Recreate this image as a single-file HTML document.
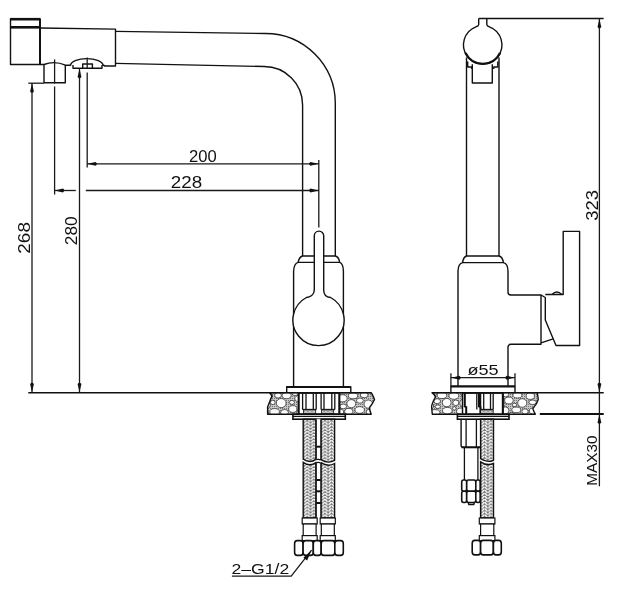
<!DOCTYPE html>
<html><head><meta charset="utf-8"><style>
html,body{margin:0;padding:0;background:#fff;width:618px;height:600px;overflow:hidden}
svg{display:block}
svg{will-change:transform}
.o{fill:none;stroke:#111;stroke-width:1.4;stroke-linejoin:round}
.t2{fill:none;stroke:#111;stroke-width:2}
.t25{fill:none;stroke:#111;stroke-width:2.4}
.t17{fill:none;stroke:#111;stroke-width:1.7}
.t3{fill:none;stroke:#111;stroke-width:2.6}
.d{fill:none;stroke:#1a1a1a;stroke-width:1.3}
.ar{fill:#111;stroke:none}
.st ellipse{fill:#fff;stroke:#333;stroke-width:0.8}
.o1{fill:none;stroke:#111;stroke-width:1.3}
.wf{fill:#fff;stroke:#111;stroke-width:1.2}
.wf2{fill:#fff;stroke:#111;stroke-width:1.6}
.hb{fill:url(#braid2);stroke:#111;stroke-width:0.8}
.hz{stroke:#111;stroke-width:1.4}
.nut{fill:#fff;stroke:#111;stroke-width:1.6}
.tx{font-family:"Liberation Sans",sans-serif;font-size:20px;fill:#111}
</style></head><body>
<svg width="618" height="600" viewBox="0 0 618 600">
<defs>
<pattern id="stip" width="2" height="2" patternUnits="userSpaceOnUse"><rect width="2" height="2" fill="#c8c8c8"/><rect width="1" height="1" fill="#777"/></pattern>
<pattern id="braidA" x="303.9" y="0" width="6.6" height="3.1" patternUnits="userSpaceOnUse"><rect width="6.6" height="3.1" fill="#7a7a7a"/><path d="M0.9 2.5 L2.6 0.5 M4.0 0.5 L5.7 2.5" fill="none" stroke="#fff" stroke-width="1.4" stroke-linecap="round"/></pattern>
<pattern id="braidB" x="321.6" y="0" width="6.6" height="3.1" patternUnits="userSpaceOnUse"><rect width="6.6" height="3.1" fill="#7a7a7a"/><path d="M0.9 2.5 L2.6 0.5 M4.0 0.5 L5.7 2.5" fill="none" stroke="#fff" stroke-width="1.4" stroke-linecap="round"/></pattern>
<pattern id="braidC" x="481.2" y="0" width="6.6" height="3.1" patternUnits="userSpaceOnUse"><rect width="6.6" height="3.1" fill="#7a7a7a"/><path d="M0.9 2.5 L2.6 0.5 M4.0 0.5 L5.7 2.5" fill="none" stroke="#fff" stroke-width="1.4" stroke-linecap="round"/></pattern>
<pattern id="braid2" width="4" height="2" patternUnits="userSpaceOnUse"><rect width="4" height="2" fill="#999"/><path d="M0.5 0.5 L2 1.5 L3.5 0.5" fill="none" stroke="#fff" stroke-width="0.8"/></pattern>
<clipPath id="cl1"><path d="M269.4 392.6 Q272.8 395.5 271.3 397.5 L267.6 407 L267.6 414.2 L371.2 414.2 Q369.4 410 369.6 407.5 Q373 403 374.5 399.5 Q373 395 371.2 392.6 Z"/></clipPath>
<clipPath id="cl2"><path d="M432 392.6 Q435.2 395 435.4 397 Q432 403 431.6 406.8 L432.3 414.2 L535.3 414.2 Q533 410 532.9 408.5 Q537 404 538.2 399.6 Q538 395 537 392.6 Z"/></clipPath>
</defs>
<g clip-path="url(#cl1)"><rect x="263" y="392.6" width="116" height="21.599999999999966" fill="url(#stip)"/><g class="st"><ellipse cx="326.9" cy="404.1" rx="4.6" ry="4.4"/><ellipse cx="281.2" cy="403.1" rx="4.9" ry="4.6"/><ellipse cx="351.3" cy="403.7" rx="4.4" ry="4.1"/><ellipse cx="368.3" cy="404.1" rx="4.3" ry="4.1"/><ellipse cx="314.1" cy="409.4" rx="3.8" ry="3.2"/><ellipse cx="378.7" cy="412.3" rx="4.3" ry="3.0"/><ellipse cx="299.6" cy="398.7" rx="4.8" ry="3.4"/><ellipse cx="274.6" cy="411.9" rx="4.8" ry="3.3"/><ellipse cx="348.8" cy="411.4" rx="4.1" ry="3.0"/><ellipse cx="292.8" cy="409.0" rx="4.1" ry="3.4"/><ellipse cx="314.7" cy="395.5" rx="3.8" ry="3.0"/><ellipse cx="303.8" cy="406.5" rx="4.8" ry="3.5"/><ellipse cx="266.5" cy="405.1" rx="3.9" ry="3.4"/><ellipse cx="364.2" cy="395.0" rx="3.9" ry="2.8"/><ellipse cx="342.4" cy="398.3" rx="4.8" ry="3.6"/><ellipse cx="333.2" cy="395.1" rx="4.4" ry="3.2"/><ellipse cx="376.7" cy="395.2" rx="4.6" ry="3.4"/><ellipse cx="286.6" cy="395.5" rx="4.5" ry="3.2"/><ellipse cx="267.6" cy="395.9" rx="4.9" ry="3.5"/><ellipse cx="338.8" cy="412.1" rx="4.8" ry="3.1"/><ellipse cx="353.0" cy="395.8" rx="4.6" ry="3.0"/><ellipse cx="359.7" cy="410.0" rx="4.8" ry="3.4"/><ellipse cx="312.9" cy="402.5" rx="4.4" ry="3.1"/><ellipse cx="323.2" cy="411.8" rx="4.9" ry="2.9"/><ellipse cx="378.1" cy="404.8" rx="4.3" ry="2.9"/><ellipse cx="343.2" cy="406.4" rx="3.3" ry="2.4"/><ellipse cx="322.8" cy="394.4" rx="3.5" ry="2.5"/><ellipse cx="369.8" cy="412.0" rx="3.7" ry="2.8"/><ellipse cx="284.5" cy="412.4" rx="3.9" ry="2.9"/><ellipse cx="278.0" cy="395.3" rx="3.4" ry="2.8"/><ellipse cx="359.9" cy="400.6" rx="3.4" ry="2.6"/><ellipse cx="306.3" cy="394.0" rx="3.2" ry="2.3"/><ellipse cx="265.4" cy="413.0" rx="3.5" ry="2.4"/><ellipse cx="306.4" cy="412.9" rx="3.1" ry="2.4"/><ellipse cx="335.1" cy="403.8" rx="3.0" ry="2.5"/><ellipse cx="295.1" cy="393.6" rx="3.1" ry="1.9"/><ellipse cx="320.2" cy="399.8" rx="2.5" ry="2.3"/><ellipse cx="291.9" cy="402.4" rx="2.5" ry="2.0"/><ellipse cx="298.9" cy="412.2" rx="2.4" ry="1.9"/><ellipse cx="272.8" cy="402.4" rx="2.3" ry="2.2"/><ellipse cx="330.9" cy="410.2" rx="2.3" ry="1.8"/></g></g>
<g clip-path="url(#cl2)"><rect x="427" y="392.6" width="116" height="21.599999999999966" fill="url(#stip)"/><g class="st"><ellipse cx="487.8" cy="403.4" rx="4.8" ry="4.5"/><ellipse cx="522.3" cy="403.0" rx="4.6" ry="4.3"/><ellipse cx="446.7" cy="402.6" rx="4.4" ry="4.2"/><ellipse cx="464.4" cy="402.9" rx="4.6" ry="4.3"/><ellipse cx="530.3" cy="396.1" rx="4.2" ry="3.3"/><ellipse cx="496.7" cy="408.4" rx="3.9" ry="3.0"/><ellipse cx="517.4" cy="395.1" rx="4.5" ry="2.9"/><ellipse cx="508.9" cy="400.5" rx="4.3" ry="3.4"/><ellipse cx="499.8" cy="399.4" rx="4.0" ry="3.1"/><ellipse cx="428.9" cy="406.0" rx="4.7" ry="3.1"/><ellipse cx="473.7" cy="397.3" rx="4.9" ry="3.1"/><ellipse cx="447.3" cy="410.7" rx="4.9" ry="3.3"/><ellipse cx="541.5" cy="405.4" rx="4.5" ry="2.9"/><ellipse cx="474.8" cy="411.4" rx="3.9" ry="3.6"/><ellipse cx="516.3" cy="409.9" rx="4.5" ry="2.8"/><ellipse cx="429.4" cy="395.7" rx="4.0" ry="3.5"/><ellipse cx="453.9" cy="395.9" rx="5.0" ry="3.4"/><ellipse cx="534.0" cy="411.0" rx="4.7" ry="3.1"/><ellipse cx="486.0" cy="411.6" rx="4.1" ry="3.0"/><ellipse cx="442.0" cy="395.3" rx="4.8" ry="3.3"/><ellipse cx="434.9" cy="412.5" rx="5.0" ry="2.9"/><ellipse cx="505.1" cy="410.5" rx="3.9" ry="3.6"/><ellipse cx="541.5" cy="395.3" rx="4.0" ry="3.3"/><ellipse cx="475.8" cy="404.3" rx="4.6" ry="2.9"/><ellipse cx="461.3" cy="411.2" rx="4.7" ry="3.2"/><ellipse cx="491.3" cy="394.9" rx="4.1" ry="3.3"/><ellipse cx="455.8" cy="402.8" rx="3.0" ry="2.8"/><ellipse cx="437.2" cy="401.2" rx="3.3" ry="2.5"/><ellipse cx="532.6" cy="402.3" rx="3.7" ry="2.3"/><ellipse cx="482.7" cy="395.8" rx="3.7" ry="2.8"/><ellipse cx="542.7" cy="412.7" rx="3.3" ry="2.7"/><ellipse cx="464.9" cy="395.4" rx="3.3" ry="2.4"/><ellipse cx="505.6" cy="394.3" rx="3.2" ry="2.6"/><ellipse cx="525.0" cy="411.5" rx="3.1" ry="2.7"/><ellipse cx="437.8" cy="406.7" rx="2.6" ry="1.8"/><ellipse cx="499.2" cy="393.5" rx="1.7" ry="1.6"/><ellipse cx="468.4" cy="408.2" rx="1.7" ry="1.5"/><ellipse cx="499.7" cy="413.6" rx="1.8" ry="1.4"/><ellipse cx="480.7" cy="408.5" rx="1.6" ry="1.6"/><ellipse cx="514.5" cy="404.9" rx="2.4" ry="1.6"/><ellipse cx="454.3" cy="408.4" rx="1.7" ry="1.7"/><ellipse cx="511.6" cy="413.8" rx="2.4" ry="1.4"/><ellipse cx="503.3" cy="404.5" rx="1.8" ry="1.3"/><ellipse cx="492.1" cy="413.8" rx="1.9" ry="1.5"/><ellipse cx="480.5" cy="400.6" rx="1.6" ry="1.3"/></g></g>
<path class="o" d="M269.4 392.6 Q272.8 395.5 271.3 397.5 L267.6 407 L267.6 414.2 L371.2 414.2 Q369.4 410 369.6 407.5 Q373 403 374.5 399.5 Q373 395 371.2 392.6 Z"/>
<path class="o" d="M432 392.6 Q435.2 395 435.4 397 Q432 403 431.6 406.8 L432.3 414.2 L535.3 414.2 Q533 410 532.9 408.5 Q537 404 538.2 399.6 Q538 395 537 392.6 Z"/>
<path class="o" d="M10.5 18.8 L40 18.8 L40 64.5 L10.5 64.5 Z"/>
<line class="t3" x1="10.50" y1="19.20" x2="40.00" y2="19.20"/>
<line class="t3" x1="10.50" y1="27.30" x2="40.00" y2="27.30"/>
<line class="t2" x1="40.00" y1="18.80" x2="40.00" y2="64.50"/>
<path class="o" d="M40 28 L115.5 29.1 L115.5 66 L105 66 L103 65 "/>
<path class="o" d="M70.5 65.8 A16.3 7.2 0 0 1 103.1 65.8"/>
<path class="o" d="M73 65 L73 68.3 L102 68.3 L102 65"/>
<path class="o" d="M82.7 68.3 L82.7 64 L92.4 64 L92.4 68.3"/>
<line class="o" x1="65.50" y1="65.20" x2="70.50" y2="65.30"/>
<path class="o" d="M40 64.5 L44 64.5 Q54.6 60.5 65.5 65.2"/>
<path class="o" d="M44 64.5 L44 82.8 L65.3 82.8 L65.3 65"/>
<path class="o" d="M115.5 31.4 L265 33.5 A70 70 0 0 1 335.3 104 L335.3 256"/>
<path class="o" d="M115.5 63.4 L264 66.5 A38.5 38.5 0 0 1 302.6 105 L302.6 256"/>
<path class="o" d="M302.6 256 L335.3 256 Q339 257 339.6 262.4 L298.2 262.4 Q299 257 302.6 256"/>
<path class="o" d="M298.2 262.4 Q294 263.5 293.6 271 L293.6 386.7 M339.6 262.4 Q343.2 263.5 343.4 271 L343.4 386.7"/>
<path class="o" fill="#fff" style="fill:#fff" d="M314.3 290 L314.3 235.8 A4.7 4.7 0 0 1 323.7 235.8 L323.7 290 C323.7 295 327 297.3 330.6 297.5 A25.6 25.6 0 1 1 306.4 297.5 C310 297.3 314.3 295 314.3 290 Z"/>
<path class="o" d="M286.7 392.3 L286.7 386.7 L350.8 386.7 L350.8 392.3"/>
<line class="t2" x1="286.70" y1="386.90" x2="350.80" y2="386.90"/>
<line class="t17" x1="28.30" y1="392.75" x2="371.20" y2="392.75"/>
<path class="o" d="M478.7 18.5 L478.7 24.5 Q478.5 26.3 476 26.8 A19.2 19.2 0 1 0 489.4 26.8 Q487 26.3 486.8 24.5 L486.8 18.5"/>
<line class="o" x1="478.70" y1="18.50" x2="603.60" y2="18.50"/>
<path class="t25" d="M465.5 53 A19.2 19.2 0 0 0 500.1 53"/>
<line class="o" x1="466.50" y1="57.50" x2="466.50" y2="256.00"/>
<line class="o" x1="499.00" y1="57.50" x2="499.00" y2="256.00"/>
<path class="o" d="M467.7 61.5 L467.7 67 L471.7 67 L471.7 69"/>
<path class="o" d="M497.8 61.5 L497.8 67 L493.8 67 L493.8 69"/>
<path class="o" d="M472.3 64.2 L472.3 83 L492.3 83 L492.3 64.2"/>
<path class="o" d="M466.6 256 L499 256 Q502.7 257 503.4 262.6 L462.6 262.6 Q463.3 257 466.6 256"/>
<path class="o" d="M462.6 262.6 Q458.3 263.5 458 271 L458 386.4"/>
<path class="o" d="M503.4 262.6 Q507.8 263.5 508 271 L508 292 Q508 295 511 295 L541 295 L541 344.3 L511 344.3 Q508 344.3 508 347.3 L508 386.4"/>
<path class="o" d="M541 295 L545.3 297.5 L545.3 320 L556 345.5 L579.6 345.5 L579.6 231.4 L563.2 231.4 L563.2 294.5 L545.3 294.5"/>
<path class="o" d="M541 342.8 L553.2 338.8"/>
<path class="o" d="M552 294.5 Q556.8 289.6 561.8 294.5"/>
<path class="o" d="M450.9 392.3 L450.9 386.3 L515 386.3 L515 392.3"/>
<line class="t2" x1="450.90" y1="386.50" x2="515.00" y2="386.50"/>
<line class="d" x1="450.90" y1="373.20" x2="450.90" y2="386.30"/>
<line class="d" x1="515.00" y1="373.20" x2="515.00" y2="386.30"/>
<line class="d" x1="450.90" y1="377.70" x2="515.00" y2="377.70"/>
<path class="ar" d="M451.60 377.70 L459.39 375.70 Q461.86 377.70 459.39 379.70 Z"/>
<path class="ar" d="M514.40 377.70 L506.61 375.70 Q504.14 377.70 506.61 379.70 Z"/>
<line class="t17" x1="432.00" y1="392.75" x2="603.70" y2="392.75"/>
<line class="t2" x1="539.80" y1="414.10" x2="603.70" y2="414.10"/>
<line class="d" x1="599.40" y1="18.50" x2="599.40" y2="486.30"/>
<path class="ar" d="M599.40 18.90 L597.50 27.10 Q599.40 29.70 601.30 27.10 Z"/>
<path class="ar" d="M599.40 392.30 L597.50 384.10 Q599.40 381.50 601.30 384.10 Z"/>
<path class="ar" d="M599.40 414.40 L597.50 422.60 Q599.40 425.20 601.30 422.60 Z"/>
<line class="d" x1="28.30" y1="83.20" x2="44.00" y2="83.20"/>
<line class="d" x1="32.00" y1="83.00" x2="32.00" y2="392.60"/>
<path class="ar" d="M32.00 83.40 L30.10 91.60 Q32.00 94.20 33.90 91.60 Z"/>
<path class="ar" d="M32.00 392.30 L30.10 384.10 Q32.00 381.50 33.90 384.10 Z"/>
<line class="d" x1="79.50" y1="68.60" x2="79.50" y2="392.60"/>
<path class="ar" d="M79.50 68.80 L77.60 77.00 Q79.50 79.60 81.40 77.00 Z"/>
<path class="ar" d="M79.50 392.30 L77.60 384.10 Q79.50 381.50 81.40 384.10 Z"/>
<line class="d" x1="54.60" y1="59.40" x2="54.60" y2="83.50"/>
<line class="d" x1="54.60" y1="86.50" x2="54.60" y2="194.50"/>
<line class="d" x1="87.20" y1="57.50" x2="87.20" y2="68.00"/>
<line class="d" x1="87.20" y1="72.40" x2="87.20" y2="167.50"/>
<line class="d" x1="318.80" y1="160.00" x2="318.80" y2="227.50"/>
<line class="d" x1="87.20" y1="163.80" x2="318.80" y2="163.80"/>
<path class="ar" d="M87.40 163.80 L95.60 161.90 Q98.20 163.80 95.60 165.70 Z"/>
<path class="ar" d="M318.60 163.80 L310.40 161.90 Q307.80 163.80 310.40 165.70 Z"/>
<line class="d" x1="54.60" y1="190.50" x2="75.80" y2="190.50"/>
<line class="d" x1="85.80" y1="190.50" x2="318.80" y2="190.50"/>
<path class="ar" d="M54.80 190.50 L63.00 188.60 Q65.60 190.50 63.00 192.40 Z"/>
<path class="ar" d="M318.60 190.50 L310.40 188.60 Q307.80 190.50 310.40 192.40 Z"/>
<text class="tx" transform="matrix(0.8317 0 0 0.7887 188.968 161.842)">200</text>
<text class="tx" transform="matrix(0.9397 0 0 0.7887 170.860 188.042)">228</text>
<text class="tx" transform="matrix(0 -0.9460 0.7958 0 29.941 253.646)">268</text>
<text class="tx" transform="matrix(0 -0.8635 0.7958 0 77.441 245.163)">280</text>
<text class="tx" transform="matrix(0 -0.9241 0.8380 0 597.532 220.739)">323</text>
<text class="tx" transform="matrix(0 -0.7658 0.7394 0 597.052 485.725)">MAX30</text>
<text class="tx" transform="matrix(0.9033 0 0 0.7746 467.548 375.490)">&#248;55</text>
<text class="tx" transform="matrix(0.8805 0 0 0.7279 231.519 574.054)">2&#8211;G1/2</text>
<rect class="wf" x="298.50" y="393.30" width="41.00" height="20.70" />
<line class="o1" x1="302.60" y1="393.20" x2="302.60" y2="409.60"/>
<line class="o1" x1="306.00" y1="393.20" x2="306.00" y2="409.60"/>
<line class="o1" x1="313.30" y1="393.20" x2="313.30" y2="409.60"/>
<line class="o1" x1="316.20" y1="393.20" x2="316.20" y2="409.60"/>
<line class="o1" x1="321.10" y1="393.20" x2="321.10" y2="409.60"/>
<line class="o1" x1="324.00" y1="393.20" x2="324.00" y2="409.60"/>
<line class="o1" x1="331.80" y1="393.20" x2="331.80" y2="409.60"/>
<line class="o1" x1="334.80" y1="393.20" x2="334.80" y2="409.60"/>
<line class="t2" x1="298.70" y1="393.00" x2="298.70" y2="414.20"/>
<line class="t2" x1="339.30" y1="393.00" x2="339.30" y2="414.20"/>
<line class="o1" x1="302.60" y1="409.50" x2="316.20" y2="409.50"/>
<line class="o1" x1="321.10" y1="409.50" x2="334.80" y2="409.50"/>
<rect class="hb" x="303.60" y="409.90" width="12.10" height="3.70" />
<rect class="hb" x="321.60" y="409.90" width="12.10" height="3.70" />
<rect class="wf2" x="292.90" y="414.20" width="52.40" height="5.00" />
<line class="o1" x1="292.90" y1="416.30" x2="345.30" y2="416.30"/>
<path class="hz" fill="url(#braidA)" d="M303.20 419.20 L315.90 419.20 L315.90 459.40 C311.07 463.00 307.01 461.80 303.20 459.20 Z"/>
<path class="hz" fill="url(#braidA)" d="M303.20 518.00 L303.20 462.30 C307.01 464.90 311.07 466.10 315.90 462.50 L315.90 518.00 L303.20 518.00 Z"/>
<path class="hz" fill="url(#braidB)" d="M320.90 419.20 L334.60 419.20 L334.60 460.40 C329.39 463.40 325.01 462.20 320.90 459.60 Z"/>
<path class="hz" fill="url(#braidB)" d="M320.90 518.00 L320.90 462.70 C325.01 465.30 329.39 466.50 334.60 463.50 L334.60 518.00 L320.90 518.00 Z"/>
<rect x="316.2" y="419.2" width="4.7" height="98.8" fill="#fff"/>
<line class="o1" x1="316.20" y1="419.20" x2="316.20" y2="459.60"/>
<line class="o1" x1="320.90" y1="419.20" x2="320.90" y2="460.00"/>
<line class="o1" x1="316.20" y1="462.60" x2="316.20" y2="518.00"/>
<line class="o1" x1="320.90" y1="462.90" x2="320.90" y2="518.00"/>
<path class="o1" d="M316.2 459.6 Q318.5 458.9 320.9 459.9 M316.2 462.7 Q318.5 462 320.9 463"/>
<line class="t2" x1="316.20" y1="446.70" x2="320.90" y2="446.70"/>
<line class="t2" x1="316.20" y1="480.00" x2="320.90" y2="480.00"/>
<line class="t2" x1="316.20" y1="491.30" x2="320.90" y2="491.30"/>
<line class="t2" x1="316.20" y1="503.00" x2="320.90" y2="503.00"/>
<rect class="wf" x="302.20" y="518.00" width="15.00" height="6.00" />
<rect class="wf" x="303.20" y="524.00" width="12.90" height="11.60" />
<rect class="wf" x="302.20" y="535.60" width="15.00" height="5.00" />
<rect class="wf" x="320.20" y="518.00" width="15.10" height="6.00" />
<rect class="wf" x="321.30" y="524.00" width="13.00" height="11.60" />
<rect class="wf" x="320.20" y="535.60" width="15.10" height="5.00" />
<rect class="nut" x="294.60" y="540.60" width="8.50" height="14.80" rx="2.6" ry="3.1"/>
<rect class="nut" x="303.10" y="540.60" width="10.20" height="14.80" rx="2.6" ry="3.1"/>
<rect class="nut" x="313.30" y="540.60" width="7.90" height="14.80" rx="2.6" ry="3.1"/>
<rect class="nut" x="321.20" y="540.60" width="13.60" height="14.80" rx="2.6" ry="3.1"/>
<rect class="nut" x="334.80" y="540.60" width="8.50" height="14.80" rx="2.6" ry="3.1"/>
<rect class="wf" x="462.40" y="393.30" width="40.60" height="20.70" />
<line class="o1" x1="476.80" y1="393.20" x2="476.80" y2="409.60"/>
<line class="o1" x1="480.60" y1="393.20" x2="480.60" y2="409.60"/>
<line class="o1" x1="483.70" y1="393.20" x2="483.70" y2="409.60"/>
<line class="o1" x1="490.50" y1="393.20" x2="490.50" y2="409.60"/>
<line class="o1" x1="493.20" y1="393.20" x2="493.20" y2="409.60"/>
<line class="o1" x1="462.60" y1="393.00" x2="462.60" y2="414.20"/>
<path class="t2" d="M464.8 393 L464.8 406.4 L466.2 407.2 L466.2 414.2"/>
<path class="t2" d="M479 393 L479 406.4 L480.4 407.2 L480.4 414.2"/>
<line class="t2" x1="502.80" y1="393.00" x2="502.80" y2="414.20"/>
<line class="o1" x1="480.60" y1="409.50" x2="493.20" y2="409.50"/>
<rect class="hb" x="480.60" y="409.90" width="12.60" height="3.70" />
<rect class="wf2" x="457.40" y="414.30" width="51.60" height="4.90" />
<line class="o1" x1="457.40" y1="416.30" x2="509.00" y2="416.30"/>
<path class="o" d="M461.1 419.2 L461.1 446 L462.5 447.4 L480.5 447.4"/>
<line class="t2" x1="461.50" y1="447.30" x2="480.50" y2="447.30"/>
<line class="o1" x1="466.10" y1="419.20" x2="466.10" y2="447.30"/>
<line class="o1" x1="476.40" y1="419.20" x2="476.40" y2="447.30"/>
<line class="o1" x1="464.40" y1="447.30" x2="464.40" y2="480.00"/>
<line class="o1" x1="477.90" y1="447.30" x2="477.90" y2="480.00"/>
<rect class="nut" x="461.70" y="480.00" width="5.00" height="11.20" rx="1.8" ry="2.2"/>
<rect class="nut" x="466.70" y="480.00" width="9.10" height="11.20" rx="1.8" ry="2.2"/>
<rect class="nut" x="475.80" y="480.00" width="4.40" height="11.20" rx="1.8" ry="2.2"/>
<rect class="nut" x="461.70" y="491.20" width="5.00" height="11.30" rx="1.8" ry="2.2"/>
<rect class="nut" x="466.70" y="491.20" width="9.10" height="11.30" rx="1.8" ry="2.2"/>
<rect class="nut" x="475.80" y="491.20" width="4.40" height="11.30" rx="1.8" ry="2.2"/>
<path class="o" d="M468.3 502.5 L468.8 504.5 L473.8 504.5 L474.3 502.5"/>
<path class="hz" fill="url(#braidC)" d="M480.60 419.20 L493.50 419.20 L493.50 460.30 C488.60 462.50 484.47 461.30 480.60 458.70 Z"/>
<path class="hz" fill="url(#braidC)" d="M480.60 518.00 L480.60 461.80 C484.47 464.40 488.60 465.60 493.50 463.40 L493.50 518.00 L480.60 518.00 Z"/>
<rect class="wf" x="479.30" y="518.00" width="15.60" height="6.00" />
<rect class="wf" x="480.60" y="524.00" width="13.20" height="11.60" />
<rect class="wf" x="479.30" y="535.60" width="15.60" height="5.00" />
<rect class="nut" x="472.20" y="540.40" width="8.40" height="14.50" rx="2.6" ry="3.1"/>
<rect class="nut" x="480.60" y="540.40" width="12.80" height="14.50" rx="2.6" ry="3.1"/>
<rect class="nut" x="493.40" y="540.40" width="7.90" height="14.50" rx="2.6" ry="3.1"/>
<path class="d" d="M231.9 576.2 L291.2 576.2 L311.6 550.2"/>
<path class="ar" d="M311.6 550.2 L303.4 557.8 L307.1 560.5 Z"/>
</svg>
</body></html>
